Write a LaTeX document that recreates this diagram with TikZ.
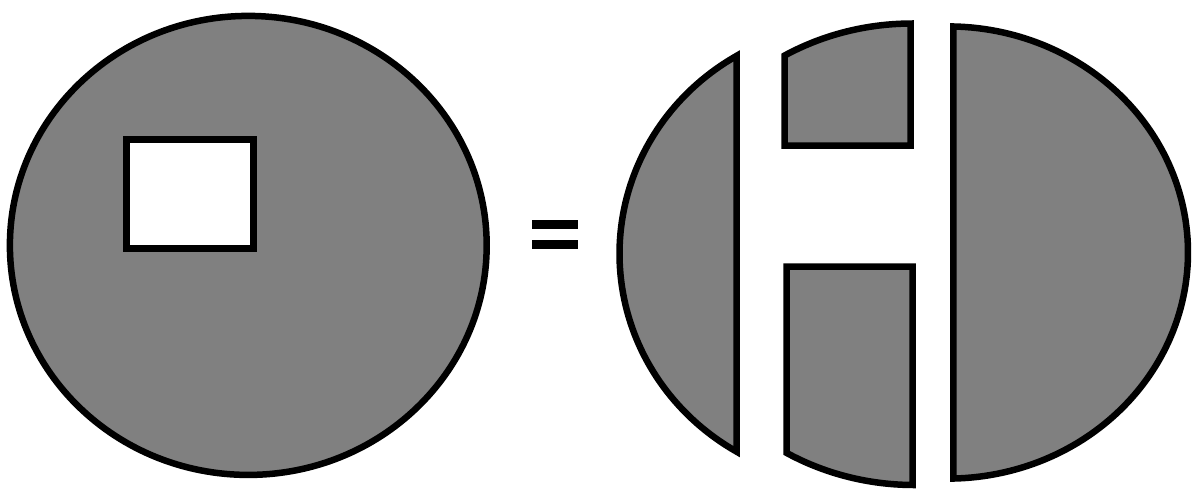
\documentclass[tikz,border=0pt]{standalone}
\definecolor{shapegray}{RGB}{128,128,128}
\tikzset{
  piece/.style={draw=black, fill=shapegray, line width=3.25pt, line join=miter},
  hole/.style={draw=black, fill=white, line width=3.25pt},
  eqbar/.style={fill=black, draw=none}
}
\begin{document}
\begin{tikzpicture}[x=0.5pt, y=-0.5pt]
\useasboundingbox (0,0) rectangle (1195,489);
% left disc with rectangular hole
\path[piece] (248.3,245.4) ellipse [x radius=238.4, y radius=229.5];
\path[hole] (126.5,139.5) rectangle (253.5,248.5);
% equal sign
\path[eqbar] (531.7,220) rectangle (577.7,229);
\path[eqbar] (531.7,240) rectangle (577.7,249);
% left segment
\path[piece] plot[domain=120.4:239.6, samples=80, variable=\t]
  ({856.7+237.2*cos(\t)},{253.75+229.5*sin(\t)}) -- cycle;
% top middle piece
\path[piece] (910.5,145.5) -- (784.5,145.5) --
  plot[domain=239.34:269.66, samples=40, variable=\t]
  ({912+250*cos(\t)},{253+229.5*sin(\t)}) -- cycle;
% bottom middle piece
\path[piece] (786.5,266.5) -- (912.5,266.5) --
  plot[domain=90.34:120.66, samples=40, variable=\t]
  ({914+250*cos(\t)},{255+230*sin(\t)}) -- cycle;
% right piece
\path[piece] plot[domain=-88.7:88.7, samples=120, variable=\t]
  ({948+240*cos(\t)},{252.5+226.1*sin(\t)}) -- cycle;
\end{tikzpicture}
\end{document}
